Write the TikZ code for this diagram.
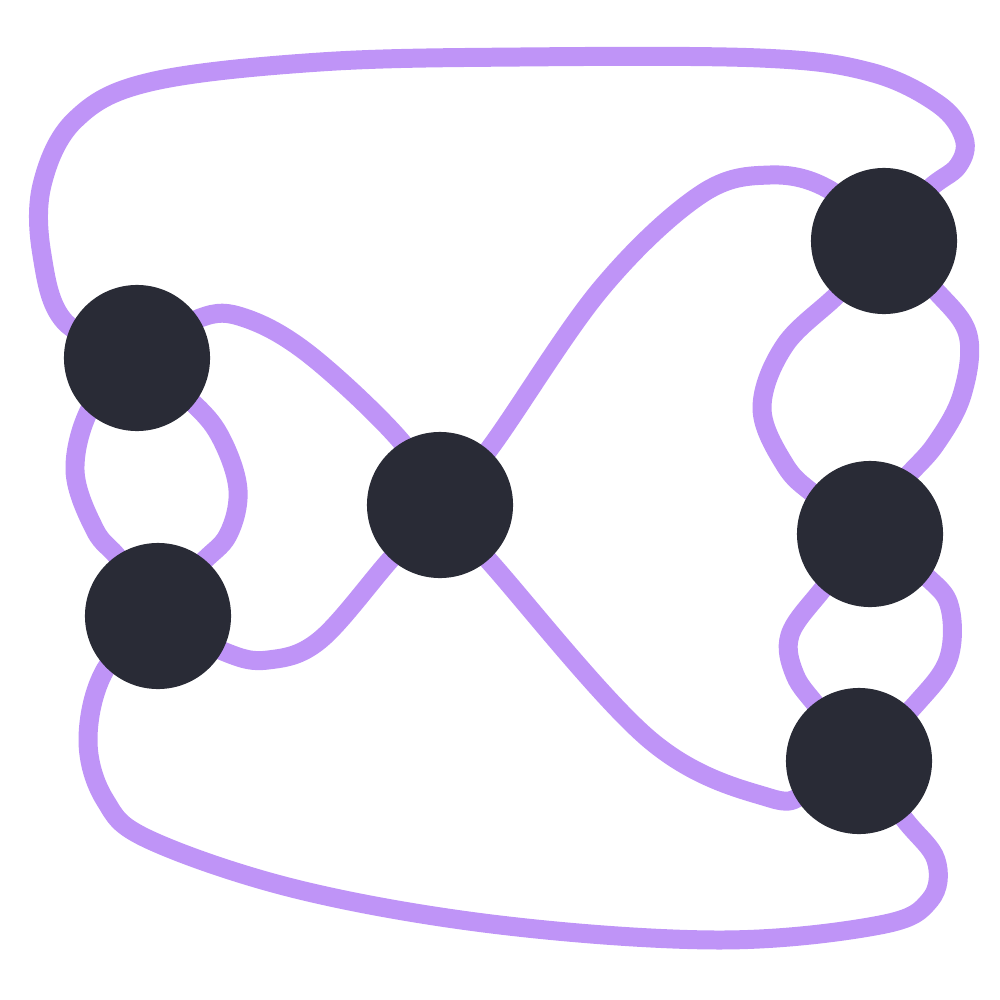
\documentclass[tikz,border=0pt]{standalone}
\usetikzlibrary{backgrounds}
\definecolor{edgec}{HTML}{BF94F7}
\definecolor{nodec}{HTML}{292B36}
\tikzset{
  vert/.style={circle,fill=nodec,draw=none,minimum size=1.46cm,inner sep=0pt},
  wire/.style={draw=edgec,line width=5.4pt,line cap=round,line join=round}
}
\begin{document}
\begin{tikzpicture}[x=0.01cm,y=-0.01cm]
\useasboundingbox (0,0) rectangle (1000,1000);
\node[vert] (A) at (137,358) {};
\node[vert] (B) at (158,616) {};
\node[vert] (C) at (440,505) {};
\node[vert] (D) at (884,241) {};
\node[vert] (E) at (870,534) {};
\node[vert] (F) at (859,761) {};
\begin{pgfonlayer}{background}
% A - D top loop
\draw[wire] plot[smooth,tension=0.6] coordinates {(A.center) (65,322) (42,255) (42,185) (75,120) (150,82) (320,62) (520,57) (760,58) (870,72) (938,104) (964,138) (958,166) (928,190) (D.center)};
% A - C
\draw[wire] plot[smooth,tension=0.6] coordinates {(A.center) (200,318) (245,318) (310,355) (400,440) (C.center)};
% A - B left
\draw[wire] plot[smooth,tension=0.6] coordinates {(A.center) (92,405) (75,470) (95,530) (120,560) (B.center)};
% A - B right
\draw[wire] plot[smooth,tension=0.6] coordinates {(A.center) (195,405) (222,440) (238,490) (228,535) (200,565) (B.center)};
% B - C
\draw[wire] plot[smooth,tension=0.6] coordinates {(B.center) (225,652) (268,660) (320,640) (390,560) (C.center)};
% B - F bottom loop
\draw[wire] plot[smooth,tension=0.6] coordinates {(B.center) (105,670) (88,740) (105,800) (150,840) (300,890) (500,925) (720,940) (880,925) (930,900) (936,860) (905,820) (F.center)};
% C - D
\draw[wire] plot[smooth,tension=0.6] coordinates {(C.center) (490,448) (600,290) (700,195) (770,175) (830,190) (D.center)};
% C - F
\draw[wire] plot[smooth,tension=0.6] coordinates {(C.center) (490,562) (650,740) (770,798) (810,790) (F.center)};
% D - E left
\draw[wire] plot[smooth,tension=0.6] coordinates {(D.center) (840,292) (785,345) (762,408) (785,465) (815,495) (E.center)};
% D - E right
\draw[wire] plot[smooth,tension=0.6] coordinates {(D.center) (935,290) (968,335) (962,395) (935,445) (900,485) (E.center)};
% E - F left
\draw[wire] plot[smooth,tension=0.6] coordinates {(E.center) (822,590) (790,635) (795,675) (820,710) (F.center)};
% E - F right
\draw[wire] plot[smooth,tension=0.6] coordinates {(E.center) (928,578) (950,608) (948,660) (915,705) (F.center)};
\end{pgfonlayer}
\end{tikzpicture}
\end{document}
